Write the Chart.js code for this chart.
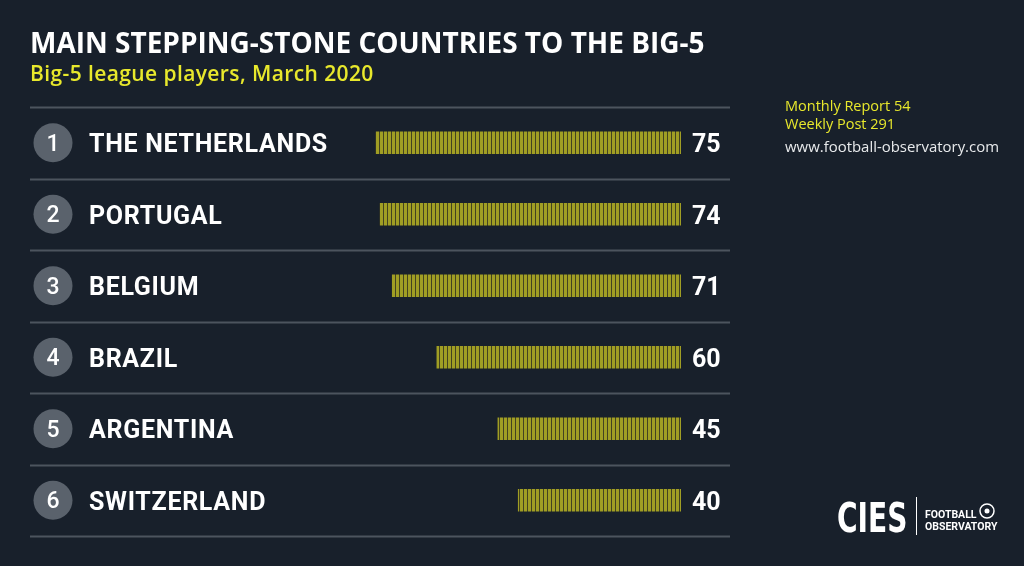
<!DOCTYPE html>
<html>
<head>
<meta charset="utf-8">
<script src="https://cdn.jsdelivr.net/npm/chart.js@4"></script>
<style>
html,body{margin:0;padding:0;background:#18202b;}
canvas{display:block;}
</style>
</head>
<body>
<canvas id="c" width="1024" height="566"></canvas>
<script>
const ranks = [1, 2, 3, 4, 5, 6];
const countries = ["THE NETHERLANDS", "PORTUGAL", "BELGIUM", "BRAZIL", "ARGENTINA", "SWITZERLAND"];
const players = [75, 74, 71, 60, 45, 40];
const titleText = "MAIN STEPPING-STONE COUNTRIES TO THE BIG-5";
const subtitleText = "Big-5 league players, March 2020";
const sideNotes = ["Monthly Report 54", "Weekly Post 291"];
const siteText = "www.football-observatory.com";

const BG = "#18202b";
const SEP = "#4c545e";
const YELLOW = "#e8e82c";

// striped pattern for bars
const tile = document.createElement("canvas");
tile.width = 4; tile.height = 4;
const tctx = tile.getContext("2d");
tctx.fillStyle = "#434220"; tctx.fillRect(0, 0, 4, 4);
tctx.fillStyle = "#a09e24"; tctx.fillRect(0, 0, 3, 4);
const ctx0 = document.getElementById("c").getContext("2d");
const stripe = ctx0.createPattern(tile, "repeat");

function spaced(c, sp) { if ("letterSpacing" in c) c.letterSpacing = sp; }

const deco = {
  id: "deco",
  beforeDraw(chart) {
    const c = chart.ctx;
    c.save();
    c.fillStyle = BG;
    c.fillRect(0, 0, chart.width, chart.height);
    const ys = chart.scales.y;
    const n = countries.length;
    const step = (ys.bottom - ys.top) / n;
    c.strokeStyle = SEP;
    c.lineWidth = 2;
    for (let i = 0; i <= n; i++) {
      const y = Math.round(ys.top + i * step) + 0.5;
      c.beginPath(); c.moveTo(30, y); c.lineTo(730, y); c.stroke();
    }
    c.restore();
  },
  afterDatasetsDraw(chart) {
    const c = chart.ctx;
    const ys = chart.scales.y, xs = chart.scales.x;
    c.save();
    // title
    c.textBaseline = "alphabetic";
    c.textAlign = "left";
    c.fillStyle = "#ffffff";
    c.font = "bold 28px 'Open Sans'";
    c.fillText(titleText, 30, 53, 686);
    c.fillStyle = YELLOW;
    c.font = "600 21px 'Open Sans'";
    spaced(c, "0.4px");
    c.fillText(subtitleText, 30, 81, 344);
    spaced(c, "0px");
    // side notes
    c.font = "500 14.5px 'Open Sans'";
    c.fillStyle = YELLOW;
    c.fillText(sideNotes[0], 785, 111);
    c.fillText(sideNotes[1], 785, 129);
    c.fillStyle = "#e8eaec";
    c.font = "500 15px 'Open Sans'";
    c.fillText(siteText, 785, 152, 214);
    // rows
    const x0 = xs.getPixelForValue(0);
    countries.forEach((name, i) => {
      const yc = ys.getPixelForValue(i);
      c.fillStyle = "#5a626c";
      c.beginPath(); c.arc(53, yc, 19.5, 0, Math.PI * 2); c.fill();
      c.fillStyle = "#ffffff";
      c.textAlign = "center";
      c.textBaseline = "middle";
      c.font = "500 23px Roboto";
      spaced(c, "0px");
      c.fillText(String(ranks[i]), 53, yc + 2);
      c.textAlign = "left";
      c.font = "bold 25px Roboto";
      spaced(c, "0.7px");
      c.fillText(name, 89, yc + 3);
      spaced(c, "0px");
      c.font = "bold 25px Roboto";
      c.fillText(String(players[i]), x0 + 11, yc + 3);
    });
    // logo
    c.fillStyle = "#ffffff";
    c.textBaseline = "alphabetic";
    c.textAlign = "left";
    c.font = "bold 40px 'DejaVu Sans Condensed'";
    c.save();
    c.translate(837, 532);
    c.scale(0.78, 1);
    c.fillText("CIES", 0, 0);
    c.restore();
    c.fillRect(916, 497, 1, 38);
    c.font = "bold 10.5px Roboto";
    c.fillText("FOOTBALL", 925, 518);
    c.fillText("OBSERVATORY", 925, 530);
    c.strokeStyle = "#ffffff";
    c.lineWidth = 1.5;
    c.beginPath(); c.arc(987, 511, 7, 0, Math.PI * 2); c.stroke();
    c.beginPath(); c.arc(987, 511, 2.5, 0, Math.PI * 2); c.fill();
    c.restore();
  }
};

new Chart(document.getElementById("c"), {
  type: "bar",
  data: {
    labels: countries,
    datasets: [{
      data: players,
      backgroundColor: stripe,
      borderWidth: 0,
      barThickness: 22
    }]
  },
  options: {
    indexAxis: "y",
    responsive: false,
    animation: false,
    devicePixelRatio: 1,
    layout: { padding: { left: 30, right: 343, top: 107, bottom: 30 } },
    plugins: { legend: { display: false }, tooltip: { enabled: false }, title: { display: false } },
    scales: {
      x: { display: false, reverse: true, min: 0, max: 160 },
      y: { display: false }
    }
  },
  plugins: [deco]
});
</script>
</body>
</html>
